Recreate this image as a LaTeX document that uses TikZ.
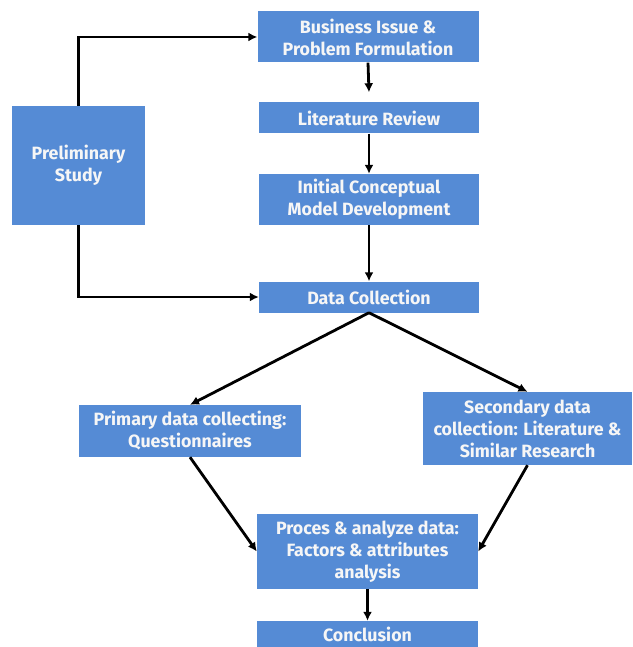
\documentclass[tikz,border=0pt]{standalone}
\usepackage{fontspec}
\setmainfont{Fira Sans}
\usetikzlibrary{arrows.meta,positioning}
\definecolor{canvablue}{HTML}{558BD5}
\definecolor{boxtext}{HTML}{F6F6F6}

\begin{document}
\begin{tikzpicture}[
  x=1pt, y=-1pt,
  font=\bfseries\fontsize{17.8}{22}\selectfont,
  box/.style={fill=canvablue, text=boxtext, inner sep=0pt, align=center},
  flow/.style={-{Latex[length=9pt,width=9pt]}, line width=2.8pt, draw=black},
]
\clip (0,0) rectangle (632,647);

\node[box, minimum width=221, minimum height=51] (biz) at (368,37) {Business Issue \&\\Problem Formulation};
\node[box, minimum width=220, minimum height=31] (lit) at (369,118) {Literature Review};
\node[box, minimum width=220, minimum height=51] (icm) at (369,199.5) {Initial Conceptual\\Model Development};
\node[box, minimum width=220, minimum height=31] (dc) at (369,297) {Data Collection};
\node[box, minimum width=133, minimum height=119] (pre) at (78.5,165.5) {Preliminary\\Study};
\node[box, minimum width=222, minimum height=52] (pri) at (190,431) {Primary data collecting:\\Questionnaires};
\node[box, minimum width=209, minimum height=73] (sec) at (527.5,428.5) {Secondary data\\collection: Literature \&\\Similar Research};
\node[box, minimum width=221, minimum height=75] (pro) at (367.5,551.5) {Proces \& analyze data:\\Factors \& attributes\\analysis};
\node[box, minimum width=221, minimum height=26] (con) at (367.5,634) {Conclusion};

\coordinate (litin) at ([yshift=10pt]lit.north);

\draw[flow] (biz.south) -- (litin);
\draw[flow] (lit) -- (icm);
\draw[flow] (icm) -- (dc);
\draw[flow] (pre.north) |- (biz.west);
\draw[flow] (pre.south) |- (dc.west);
\draw[flow] (dc.south) -- (pri.north);
\draw[flow] (dc.south) -- (sec.north);
\draw[flow] (pri.south) -- (pro.west);
\draw[flow] (sec.south) -- (pro.east);
\draw[flow] (pro) -- (con);
\end{tikzpicture}
\end{document}
